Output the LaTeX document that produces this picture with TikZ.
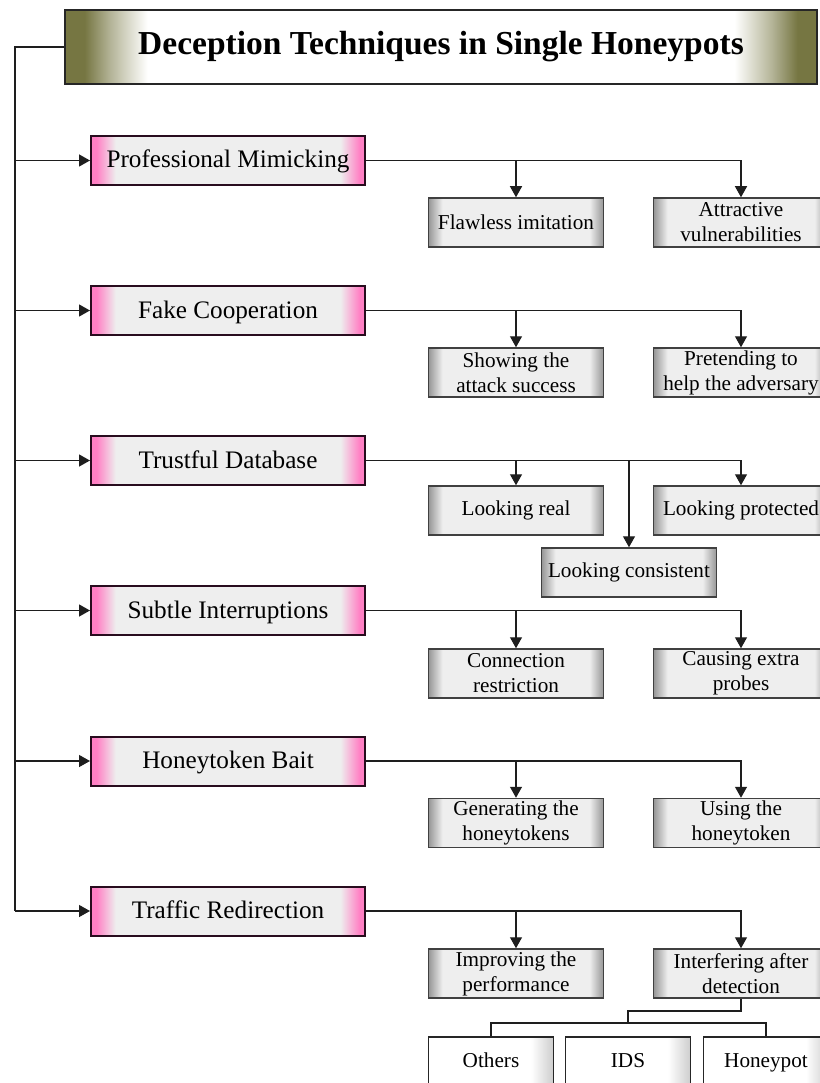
\documentclass[tikz,border=0pt]{standalone}
\usepackage{fontspec}
\setmainfont{Liberation Serif}
\usetikzlibrary{arrows.meta,calc}
\definecolor{olivec}{RGB}{118,118,66}
\definecolor{pinkc}{RGB}{255,128,196}
\definecolor{boxgray}{RGB}{238,238,238}
\definecolor{edgegray}{RGB}{150,150,150}
\definecolor{linec}{RGB}{30,30,30}
\definecolor{pinkborder}{RGB}{40,12,30}
\definecolor{lightedge}{RGB}{205,205,205}
\pgfdeclarehorizontalshading{titleshade}{100bp}{color(0bp)=(olivec); color(25bp)=(olivec); color(26.3bp)=(olivec); color(28bp)=(olivec!55!white); color(30.5bp)=(white); color(69.5bp)=(white); color(72bp)=(olivec!55!white); color(73.7bp)=(olivec); color(75bp)=(olivec); color(100bp)=(olivec)}
\pgfdeclarehorizontalshading{pinkshade}{100bp}{color(0bp)=(pinkc); color(25bp)=(pinkc); color(26bp)=(pinkc); color(29.5bp)=(boxgray); color(70.5bp)=(boxgray); color(74bp)=(pinkc); color(75bp)=(pinkc); color(100bp)=(pinkc)}
\pgfdeclarehorizontalshading{grayshade}{100bp}{color(0bp)=(edgegray); color(25bp)=(edgegray); color(29bp)=(boxgray); color(71bp)=(boxgray); color(75bp)=(edgegray); color(100bp)=(edgegray)}
\pgfdeclarehorizontalshading{whiteshade}{100bp}{color(0bp)=(white); color(25bp)=(white); color(66bp)=(white); color(75bp)=(lightedge); color(100bp)=(lightedge)}
\tikzset{
  line/.style={draw=linec, line width=1.3pt},
  arr/.style={line, -{Triangle[length=11pt,width=12pt]}},
  titlebox/.style={draw=black!85, line width=2pt, shade, shading=titleshade,
    minimum width=752pt, minimum height=74pt, inner sep=0pt,
    font=\fontsize{33.5}{40}\selectfont\bfseries},
  pinkbox/.style={draw=pinkborder, line width=2pt, shade, shading=pinkshade,
    minimum width=274pt, minimum height=49pt, inner sep=0pt,
    text height=19pt, text depth=4pt,
    font=\fontsize{25.2}{30}\selectfont},
  graybox/.style={draw=black!75, line width=1.5pt, shade, shading=grayshade,
    minimum width=175pt, minimum height=49pt, inner sep=0pt, align=center,
    font=\fontsize{21.2}{25}\selectfont},
  whitebox/.style={draw=black!85, line width=1.2pt, shade, shading=whiteshade,
    minimum width=125pt, minimum height=49pt, inner sep=0pt,
    text height=15pt, text depth=3pt,
    font=\fontsize{21.2}{25}\selectfont},
}
\begin{document}
\begin{tikzpicture}[x=1pt,y=-1pt]
\useasboundingbox (0,0) rectangle (819,1083);
% title
\node[titlebox] (title) at (441,47) {Deception Techniques in Single Honeypots};
% main categories
\node[pinkbox] (p1) at (228,160.5) {Professional Mimicking};
\node[pinkbox] (p2) at (228,310.5) {Fake Cooperation};
\node[pinkbox] (p3) at (228,460.5) {Trustful Database};
\node[pinkbox] (p4) at (228,610.5) {Subtle Interruptions};
\node[pinkbox] (p5) at (228,761) {Honeytoken Bait};
\node[pinkbox] (p6) at (228,911) {Traffic Redirection};
% children
\node[graybox] (c1a) at (516,222.5) {Flawless imitation};
\node[graybox] (c1b) at (741,222.5) {Attractive\\vulnerabilities};
\node[graybox] (c2a) at (516,372.5) {Showing the\\attack success};
\node[graybox] (c2b) at (741,372.5) {Pretending to\\help the adversary};
\node[graybox] (c3a) at (516,510.5) {Looking real};
\node[graybox] (c3b) at (741,510.5) {Looking protected};
\node[graybox] (c3c) at (629,572.5) {Looking consistent};
\node[graybox] (c4a) at (516,673.5) {Connection\\restriction};
\node[graybox] (c4b) at (741,673.5) {Causing extra\\probes};
\node[graybox] (c5a) at (516,823) {Generating the\\honeytokens};
\node[graybox] (c5b) at (741,823) {Using the\\honeytoken};
\node[graybox] (c6a) at (516,973.5) {Improving the\\performance};
\node[graybox] (c6b) at (741,973.5) {Interfering after\\detection};
\node[whitebox] (others) at (491,1061.5) {Others};
\node[whitebox] (ids) at (628,1061.5) {IDS};
\node[whitebox] (honeypot) at (766,1061.5) {Honeypot};
% trunk
\coordinate (trunk) at (15,911);
\draw[line] (title.west) -| (trunk);
\foreach \p in {p1,p2,p3,p4,p5,p6}{
  \draw[arr] (\p.west -| trunk) -- (\p.west);
}
% child connectors
\foreach \p/\a/\b in {p1/c1a/c1b, p2/c2a/c2b, p3/c3a/c3b, p4/c4a/c4b, p5/c5a/c5b, p6/c6a/c6b}{
  \draw[arr] (\p.east) -| (\b.north);
  \draw[arr] (\p.east -| \a.north) -- (\a.north);
}
\draw[arr] (p3.east -| c3c.north) -- (c3c.north);
% bottom sub-tree
\coordinate (bend) at (628,1011);
\coordinate (bus) at (628,1023);
\draw[line] (c6b.south) |- (bend) -- (bus);
\draw[line] (others.north) |- (bus) -| (honeypot.north);
\end{tikzpicture}
\end{document}
